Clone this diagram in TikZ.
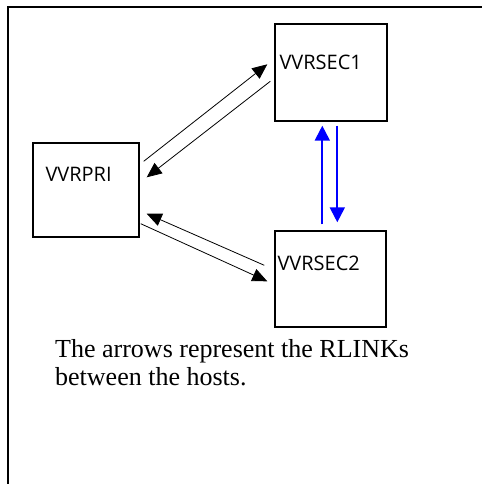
\documentclass[tikz,border=0pt]{standalone}
\usepackage{fontspec}
\setmainfont{Liberation Serif}
\newfontfamily\hostfont{Open Sans}
\usepackage{xcolor}
\usepackage{tikz}
\usetikzlibrary{arrows.meta, positioning}

\begin{document}
\begin{tikzpicture}[
  x=1pt, y=-1pt,
  host/.style={draw, line width=1.4pt, inner sep=0pt},
  hostlbl/.style={anchor=base west, inner sep=0pt, font=\hostfont\fontsize{20}{24}\selectfont},
  rlink/.style={-{Triangle[length=15pt, width=13pt]}, line width=0.8pt},
  peer/.style={-{Triangle[length=15pt, width=15pt]}, line width=2pt, blue},
  note/.style={anchor=base west, inner sep=0pt, align=left, font=\fontsize{26}{28}\selectfont}
]

  \useasboundingbox (0,0) rectangle (482,484);

  % Open frame round the picture
  \draw[line width=2pt] (8,484) -- (8,7) -- (482,7);

  % Hosts
  \node[host, minimum width=106pt, minimum height=94pt] (pri)  at (86,190)    {};
  \node[host, minimum width=112pt, minimum height=97pt] (sec1) at (331,72.5)  {};
  \node[host, minimum width=111pt, minimum height=96pt] (sec2) at (330.5,279) {};

  \node[hostlbl] (pril)  at ([shift={(13,39)}]pri.north west)  {VVRPRI};
  \node[hostlbl] (sec1l) at ([shift={(5,46)}]sec1.north west)  {VVRSEC1};
  \node[hostlbl] (sec2l) at ([shift={(3,40)}]sec2.north west)  {VVRSEC2};

  % RLINKs between primary and secondaries
  \draw[rlink] ([shift={(4,19)}]pri.north east)   -- ([shift={(-7,41)}]sec1.north west);
  \draw[rlink] ([shift={(-4,58)}]sec1.north west) -- ([shift={(7,35)}]pri.north east);
  \draw[rlink] ([shift={(-10,35)}]sec2.north west) -- ([shift={(7,-24)}]pri.south east);
  \draw[rlink] ([shift={(1,-14)}]pri.south east)  -- ([shift={(-7,51)}]sec2.north west);

  % RLINKs between the secondaries
  \draw[peer] ([shift={(48,-6)}]sec2.north west) -- ([shift={(48,4)}]sec1.south west);
  \draw[peer] ([shift={(63,4)}]sec1.south west)  -- ([shift={(63,-8)}]sec2.north west);

  % Note below
  \node[note] (txt) at (55,385) {The arrows represent the RLINKs\\between the hosts.};

\end{tikzpicture}
\end{document}
